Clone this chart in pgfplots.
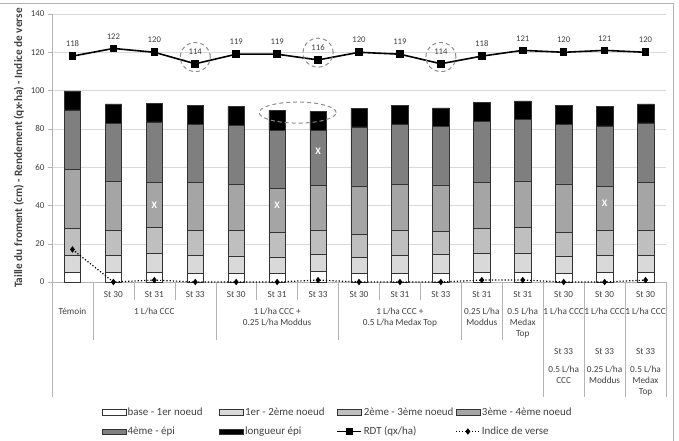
\documentclass[border=0pt]{standalone}
\usepackage{fontspec}
\setmainfont{Carlito}
\usepackage{pgfplots}
\usepackage{pgfplotstable}
\pgfplotsset{compat=1.18}

\definecolor{segA}{HTML}{FFFFFF}
\definecolor{segB}{HTML}{D9D9D9}
\definecolor{segC}{HTML}{BFBFBF}
\definecolor{segD}{HTML}{A5A5A5}
\definecolor{segE}{HTML}{7F7F7F}
\definecolor{segF}{HTML}{000000}
\definecolor{txt}{HTML}{404040}
\definecolor{sepline}{HTML}{B3B3B3}

% segment heights (cm), yield (qx/ha) and lodging index per treatment
\pgfplotstableread{
x s1  s2   s3   s4   s5   s6   rdt verse
0 5.0 9.1  13.9 30.9 31.0 9.9  118 17
1 4.9 9.2  13.0 25.3 30.5 10.1 122 0
2 5.2 9.8  13.6 23.5 31.5 9.9  120 1
3 4.5 9.6  13.0 25.0 30.3 9.7  114 0
4 4.5 9.1  13.2 24.2 30.7 10.1 119 0
5 4.5 8.6  12.9 22.8 30.6 10.3 119 0
6 5.4 9.2  12.2 23.5 29.1 9.9  116 1
7 4.5 8.2  12.2 25.3 30.8 9.7  120 0
8 4.5 9.4  13.3 23.8 31.5 9.8  119 0
9 4.5 9.8  12.2 24.2 30.5 9.7  114 0
10 5.2 9.8 13.2 24.0 31.8 9.9  118 1
11 5.2 10.0 13.4 24.2 32.2 9.6 121 1
12 4.5 9.1 12.5 25.1 31.2 9.7  120 0
13 4.9 9.0 13.1 23.0 31.5 10.1 121 0
14 4.9 9.0 13.3 25.0 30.9 9.9  120 1
}\data

\newcommand{\catfont}{\fontsize{9.3}{11}\selectfont}

\pgfplotsset{
  /pgf/number format/assume math mode=true,
  barlegend/.style={legend image code/.code={\draw[##1] (0bp,-2.6bp) rectangle (24bp,2.6bp);}},
  linelegend/.style={legend image code/.code={\draw[mark repeat=2,mark phase=2,##1] plot coordinates {(0bp,0bp) (12bp,0bp) (24bp,0bp)};}},
  chartbox/.style={at={(52bp,159bp)}, anchor=south west, scale only axis,
    width=614bp, height=268bp, xmin=-0.5, xmax=14.5, ymin=0, ymax=140, clip=false},
}

\begin{document}
\begin{tikzpicture}
\useasboundingbox (0,0) rectangle (679bp,441bp);
\draw[black!30] (0,437.5bp) -- (673bp,437.5bp) -- (673bp,0);

\begin{axis}[chartbox,
  ybar stacked, bar width=16.5bp,
  axis lines*=left, axis line style={color=sepline},
  xtick=\empty, ytick={0,20,...,140},
  ymajorgrids, grid style={color=black!15},
  tick align=outside, major tick length=4bp, ytick style={color=sepline},
  yticklabel style={font=\fontsize{9}{11}\selectfont, color=txt},
  ylabel={Taille du froment (cm) - Rendement (qx-ha) - Indice de verse},
  ylabel style={font=\bfseries\fontsize{11.3}{13}\selectfont, color=txt},
]
\addplot[fill=segA, draw=black!80, line width=0.5bp] table[x=x,y=s1]{\data};
\addplot[fill=segB, draw=black!80, line width=0.5bp] table[x=x,y=s2]{\data};
\addplot[fill=segC, draw=black!80, line width=0.5bp] table[x=x,y=s3]{\data};
\addplot[fill=segD, draw=black!80, line width=0.5bp] table[x=x,y=s4]{\data};
\addplot[fill=segE, draw=black!80, line width=0.5bp] table[x=x,y=s5]{\data};
\addplot[fill=segF, draw=black!80, line width=0.5bp] table[x=x,y=s6]{\data};

% category axis: separators
\draw[color=sepline] (axis cs:-0.5,0) -- (axis cs:-0.5,-60.1);
\draw[color=sepline] (axis cs:14.5,0) -- (axis cs:14.5,-60.1);
\draw[color=sepline] (axis cs:0.5,0) -- (axis cs:0.5,-30.3);
\draw[color=sepline] (axis cs:1.5,0) -- (axis cs:1.5,-9.4);
\draw[color=sepline] (axis cs:2.5,0) -- (axis cs:2.5,-9.4);
\draw[color=sepline] (axis cs:3.5,0) -- (axis cs:3.5,-30.3);
\draw[color=sepline] (axis cs:4.5,0) -- (axis cs:4.5,-9.4);
\draw[color=sepline] (axis cs:5.5,0) -- (axis cs:5.5,-9.4);
\draw[color=sepline] (axis cs:6.5,0) -- (axis cs:6.5,-30.3);
\draw[color=sepline] (axis cs:7.5,0) -- (axis cs:7.5,-9.4);
\draw[color=sepline] (axis cs:8.5,0) -- (axis cs:8.5,-9.4);
\draw[color=sepline] (axis cs:9.5,0) -- (axis cs:9.5,-30.3);
\draw[color=sepline] (axis cs:10.5,0) -- (axis cs:10.5,-30.3);
\draw[color=sepline] (axis cs:11.5,0) -- (axis cs:11.5,-60.1);
\draw[color=sepline] (axis cs:12.5,0) -- (axis cs:12.5,-60.1);
\draw[color=sepline] (axis cs:13.5,0) -- (axis cs:13.5,-60.1);

% category axis: stage row
\node[font=\catfont, text=txt, inner sep=0pt] at (axis cs:1,-6.3) {St 30};
\node[font=\catfont, text=txt, inner sep=0pt] at (axis cs:2,-6.3) {St 31};
\node[font=\catfont, text=txt, inner sep=0pt] at (axis cs:3,-6.3) {St 33};
\node[font=\catfont, text=txt, inner sep=0pt] at (axis cs:4,-6.3) {St 30};
\node[font=\catfont, text=txt, inner sep=0pt] at (axis cs:5,-6.3) {St 31};
\node[font=\catfont, text=txt, inner sep=0pt] at (axis cs:6,-6.3) {St 33};
\node[font=\catfont, text=txt, inner sep=0pt] at (axis cs:7,-6.3) {St 30};
\node[font=\catfont, text=txt, inner sep=0pt] at (axis cs:8,-6.3) {St 31};
\node[font=\catfont, text=txt, inner sep=0pt] at (axis cs:9,-6.3) {St 33};
\node[font=\catfont, text=txt, inner sep=0pt] at (axis cs:10,-6.3) {St 31};
\node[font=\catfont, text=txt, inner sep=0pt] at (axis cs:11,-6.3) {St 31};
\node[font=\catfont, text=txt, inner sep=0pt] at (axis cs:12,-6.3) {St 30};
\node[font=\catfont, text=txt, inner sep=0pt] at (axis cs:13,-6.3) {St 30};
\node[font=\catfont, text=txt, inner sep=0pt] at (axis cs:14,-6.3) {St 30};
% product row
\node[font=\catfont, text=txt, inner sep=0pt, anchor=north, align=center] at (axis cs:0,-13.6) {Témoin};
\node[font=\catfont, text=txt, inner sep=0pt, anchor=north, align=center] at (axis cs:2,-13.6) {1 L/ha CCC};
\node[font=\catfont, text=txt, inner sep=0pt, anchor=north, align=center] at (axis cs:5,-13.6) {1 L/ha CCC +\\0.25 L/ha Moddus};
\node[font=\catfont, text=txt, inner sep=0pt, anchor=north, align=center] at (axis cs:8,-13.6) {1 L/ha CCC +\\0.5 L/ha Medax Top};
\node[font=\catfont, text=txt, inner sep=0pt, anchor=north, align=center] at (axis cs:10,-13.6) {0.25 L/ha\\Moddus};
\node[font=\catfont, text=txt, inner sep=0pt, anchor=north, align=center] at (axis cs:11,-13.6) {0.5 L/ha\\Medax\\Top};
\node[font=\catfont, text=txt, inner sep=0pt, anchor=north, align=center] at (axis cs:12,-13.6) {1 L/ha CCC};
\node[font=\catfont, text=txt, inner sep=0pt, anchor=north, align=center] at (axis cs:13,-13.6) {1 L/ha CCC};
\node[font=\catfont, text=txt, inner sep=0pt, anchor=north, align=center] at (axis cs:14,-13.6) {1 L/ha CCC};
% second application
\node[font=\catfont, text=txt, inner sep=0pt] at (axis cs:12,-36.4) {St 33};
\node[font=\catfont, text=txt, inner sep=0pt] at (axis cs:13,-36.4) {St 33};
\node[font=\catfont, text=txt, inner sep=0pt] at (axis cs:14,-36.4) {St 33};
\node[font=\catfont, text=txt, inner sep=0pt, anchor=north, align=center] at (axis cs:12,-44.0) {0.5 L/ha\\CCC};
\node[font=\catfont, text=txt, inner sep=0pt, anchor=north, align=center] at (axis cs:13,-44.0) {0.25 L/ha\\Moddus};
\node[font=\catfont, text=txt, inner sep=0pt, anchor=north, align=center] at (axis cs:14,-44.0) {0.5 L/ha\\Medax\\Top};
\end{axis}

\begin{axis}[chartbox, hide axis,
  legend columns=4,
  legend style={draw=none, fill=none, at={(0.0757,-0.455)}, anchor=north west,
    font=\fontsize{11}{13}\selectfont, text=txt,
    nodes={inner sep=1.5bp}, /tikz/row sep=7bp, /tikz/column sep=0pt},
]
\addlegendimage{barlegend, fill=segA, draw=black!80, line width=0.5bp}
\addlegendentry{\makebox[90bp][l]{base - 1er noeud}}
\addlegendimage{barlegend, fill=segB, draw=black!80, line width=0.5bp}
\addlegendentry{\makebox[90bp][l]{1er - 2ème noeud}}
\addlegendimage{barlegend, fill=segC, draw=black!80, line width=0.5bp}
\addlegendentry{\makebox[90bp][l]{2ème - 3ème noeud}}
\addlegendimage{barlegend, fill=segD, draw=black!80, line width=0.5bp}
\addlegendentry{\makebox[90bp][l]{3ème - 4ème noeud}}
\addlegendimage{barlegend, fill=segE, draw=black!80, line width=0.5bp}
\addlegendentry{\makebox[90bp][l]{4ème - épi}}
\addlegendimage{barlegend, fill=segF, draw=black!80, line width=0.5bp}
\addlegendentry{\makebox[90bp][l]{longueur épi}}

\addplot[linelegend, black, line width=1.6bp, mark=square*, mark size=3bp,
  nodes near coords,
  nodes near coords style={font=\fontsize{8.7}{10}\selectfont, text=txt, anchor=south, inner sep=0pt, yshift=8.5bp}]
  table[x=x,y=rdt]{\data};
\addlegendentry{\makebox[90bp][l]{RDT (qx/ha)}}
\addplot[linelegend, black, line width=1.2bp, dotted, mark=diamond*, mark size=2.3bp, mark options={solid}]
  table[x=x,y=verse]{\data};
\addlegendentry{\makebox[90bp][l]{Indice de verse}}

% marks for significant differences
\node[text=white, font=\bfseries\fontsize{10}{11}\selectfont] at (axis cs:2,40) {X};
\node[text=white, font=\bfseries\fontsize{10}{11}\selectfont] at (axis cs:5,40) {X};
\node[text=white, font=\bfseries\fontsize{10}{11}\selectfont] at (axis cs:6,68.2) {X};
\node[text=white, font=\bfseries\fontsize{10}{11}\selectfont] at (axis cs:13,41) {X};

% highlighted values
\draw[black!45, line width=1bp, dash pattern=on 4bp off 3bp] (axis cs:3,117.5) ellipse [x radius=15bp, y radius=14.5bp];
\draw[black!45, line width=1bp, dash pattern=on 4bp off 3bp] (axis cs:6,119.8) ellipse [x radius=15bp, y radius=14.5bp];
\draw[black!45, line width=1bp, dash pattern=on 4bp off 3bp] (axis cs:9,117.5) ellipse [x radius=15bp, y radius=14.5bp];
\draw[black!45, line width=1bp, dash pattern=on 4bp off 3bp] (axis cs:5.5,88.5) ellipse [x radius=38.5bp, y radius=10.5bp];
\end{axis}
\end{tikzpicture}
\end{document}
